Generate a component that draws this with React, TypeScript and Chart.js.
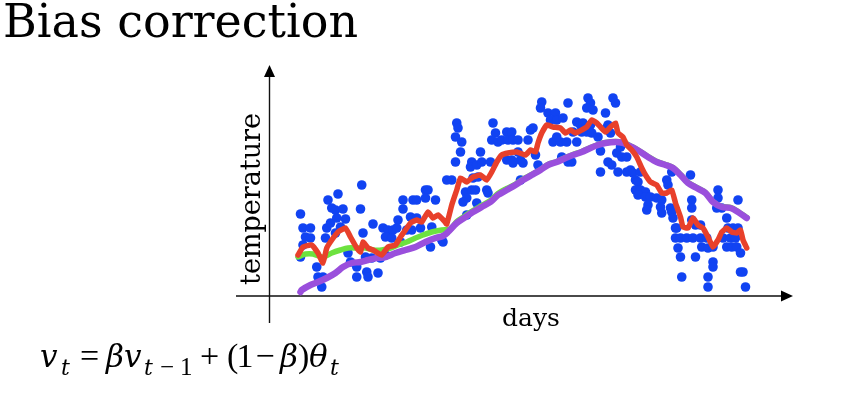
import React, { useEffect, useRef } from "react";
import { Chart, registerables } from "chart.js";

Chart.register(...registerables);

const TITLE = "Bias correction";
const X_LABEL = "days";
const Y_LABEL = "temperature";

// daily temperature readings (blue dots)
const dotDays = [
  2, 2, 4, 10, 6, 10, 4, 15, 16, 20, 19, 22, 23, 26, 24, 27, 30, 32, 30, 31,
  34, 36, 38, 40, 42, 47, 47, 51, 50, 52, 54, 55, 56, 59, 60, 64, 66, 70, 68, 72,
  76, 70, 75, 80, 82, 84, 84, 87, 90, 91, 92, 95, 95, 98, 102, 104, 102, 110, 107, 106,
  115, 79, 116, 119, 123, 127, 128, 126, 131, 130, 126, 134, 135, 132, 139, 138, 143, 146, 140, 144,
  139, 142, 151, 152, 143, 135, 147, 154, 156, 158, 155, 160, 163, 167, 171, 168, 172, 176, 167, 171,
  178, 172, 180, 176, 184, 186, 188, 190, 192, 178, 198, 198, 195, 194, 200, 206, 202, 207, 212, 204,
  210, 215, 207, 216, 219, 211, 216, 223, 226, 220, 227, 223, 232, 232, 234, 231, 236, 228, 234, 231,
  235, 240, 242, 252, 246, 252, 254, 246, 248, 247, 250, 242, 248, 251, 255, 259, 263, 256, 263, 266,
  268, 258, 270, 272, 270, 274, 278, 272, 278, 282, 287, 291, 280, 279, 290, 291, 295, 296, 298, 299,
  300, 299, 302, 303, 302, 306, 311, 316, 322, 327, 304, 306, 318, 307, 315, 318, 322, 314, 315, 315,
  323, 328, 332, 332, 332, 328, 328, 336, 336, 335, 339, 343, 344, 340, 346, 350, 343, 347, 351, 348,
  352, 352, 354, 354, 356, 358, 274,
];
const dotTemps = [
  38.0, 46.6, 43.8, 43.8, 42.0, 41.8, 40.4, 36.0, 34.0, 34.0, 32.0, 41.8, 43.8, 44.8, 49.4, 47.8, 47.4, 50.6, 42.8, 45.8,
  44.0, 47.6, 45.6, 38.8, 37.0, 36.0, 34.0, 52.4, 47.6, 42.8, 38.0, 35.0, 34.0, 37.8, 44.6, 34.8, 37.8, 38.4, 43.8, 43.4,
  43.4, 42.0, 41.8, 45.4, 41.0, 49.4, 47.6, 43.4, 46.0, 43.4, 49.4, 49.4, 45.8, 43.8, 51.4, 51.4, 49.8, 49.4, 44.0, 40.0,
  41.4, 43.8, 41.0, 53.4, 53.4, 64.8, 63.8, 62.0, 61.0, 59.0, 57.0, 51.0, 49.8, 49.0, 57.0, 56.0, 56.4, 59.0, 53.8, 54.0,
  51.4, 51.4, 51.4, 50.8, 48.8, 46.4, 57.0, 57.0, 64.8, 62.8, 61.4, 61.0, 61.4, 63.0, 63.0, 61.4, 61.4, 61.4, 57.4, 57.4,
  57.4, 56.8, 56.8, 59.0, 61.4, 63.4, 63.8, 58.4, 56.4, 53.4, 73.4, 72.4, 69.0, 67.8, 66.8, 66.8, 65.4, 65.4, 65.8, 61.0,
  61.0, 61.0, 62.0, 57.0, 57.0, 58.0, 68.8, 65.0, 64.4, 63.0, 63.0, 61.0, 74.4, 69.8, 68.8, 67.8, 67.4, 64.8, 64.4, 63.0,
  62.8, 62.0, 55.0, 72.8, 70.8, 69.8, 68.8, 66.8, 64.4, 63.8, 62.8, 59.2, 57.0, 56.4, 58.8, 58.0, 58.0, 55.0, 55.0, 55.4,
  54.8, 60.0, 53.4, 53.0, 51.4, 51.4, 51.0, 50.4, 50.0, 50.0, 49.8, 49.4, 48.4, 47.4, 48.0, 46.8, 53.4, 52.4, 47.8, 47.0,
  45.8, 55.0, 43.8, 43.8, 41.8, 41.8, 41.8, 41.8, 41.8, 41.8, 39.8, 38.0, 38.0, 34.0, 45.4, 44.4, 44.4, 54.4, 49.4, 47.8,
  40.0, 39.8, 40.0, 37.0, 36.0, 34.0, 32.0, 51.4, 49.8, 47.8, 47.8, 45.8, 43.8, 41.8, 41.8, 41.8, 40.0, 40.0, 40.0, 43.8,
  43.8, 49.4, 38.8, 35.0, 35.0, 32.0, 55.0,
];

// moving average, beta = 0.9 (red)
const redDays = [
  0, 4, 11, 16, 20, 23, 27, 32, 38, 42, 47, 50, 52, 56, 60, 67, 72, 78, 82, 86,
  90, 95, 99, 104, 108, 112, 117, 119, 123, 127, 130, 135, 140, 146, 151, 155, 159, 163, 168, 175,
  182, 186, 190, 192, 195, 199, 204, 210, 214, 218, 222, 227, 231, 235, 239, 242, 246, 250, 254, 256,
  260, 263, 267, 271, 275, 278, 282, 287, 291, 295, 299, 302, 306, 308, 312, 316, 320, 324, 328, 332,
  336, 339, 343, 347, 351, 354, 356, 359,
];
const redTemps = [
  38.4, 40.0, 40.4, 38.8, 36.8, 39.8, 41.4, 43.0, 43.8, 42.0, 39.8, 39.0, 41.0, 39.8, 39.4, 38.4, 40.0, 40.4, 42.0, 43.4,
  44.8, 45.4, 45.0, 47.0, 45.8, 46.4, 45.2, 44.6, 48.4, 51.4, 53.8, 53.0, 54.0, 54.4, 53.4, 55.0, 57.0, 58.4, 58.8, 59.0,
  58.4, 59.4, 59.0, 60.8, 62.8, 64.4, 64.0, 63.8, 62.8, 63.4, 62.8, 63.4, 64.0, 65.4, 64.8, 64.0, 63.0, 64.0, 64.8, 62.8,
  62.0, 60.4, 59.4, 58.0, 55.8, 54.4, 53.0, 52.4, 50.8, 50.8, 51.4, 48.8, 46.0, 44.0, 43.8, 45.8, 44.4, 43.8, 42.0, 40.0,
  41.4, 43.0, 43.8, 43.0, 42.8, 43.4, 41.4, 39.8,
];

// moving average, beta = 0.98, with bias correction (green)
const greenDays = [
  0, 6, 12, 20, 27, 34, 40, 47, 54, 60, 67, 74, 80, 87, 94, 100, 107, 115, 122, 127,
  134, 140, 147, 154, 160, 167, 174, 180, 187, 194, 200, 207, 214, 220, 227, 234, 240, 246, 254, 260,
  267, 274, 280, 287, 294, 300, 306, 312, 319, 326, 332, 339, 346, 352, 359,
];
const greenTemps = [
  38.0, 38.6, 38.6, 38.0, 38.8, 39.4, 39.8, 39.8, 39.8, 39.4, 39.4, 39.8, 40.4, 41.0, 41.8, 42.4, 43.0, 43.4, 43.6, 45.1,
  46.3, 47.3, 48.3, 49.3, 50.7, 51.7, 52.6, 53.6, 54.5, 55.5, 56.5, 57.1, 57.9, 58.5, 59.1, 59.9, 60.5, 60.9, 61.1, 60.9,
  60.1, 59.1, 58.1, 57.1, 56.5, 55.9, 54.5, 52.9, 51.9, 50.9, 49.1, 48.1, 47.9, 47.1, 45.9,
];

// moving average, beta = 0.98, without bias correction (purple)
const purpleDays = [
  2, 3, 10, 16, 23, 30, 36, 43, 50, 56, 63, 70, 78, 86, 94, 102, 110, 116, 120, 127,
  134, 140, 147, 154, 160, 167, 174, 180, 187, 194, 200, 207, 214, 220, 227, 234, 240, 246, 254, 260,
  267, 274, 280, 287, 294, 300, 306, 312, 319, 326, 332, 339, 346, 352, 359,
];
const purpleTemps = [
  31.0, 31.4, 32.4, 33.0, 33.8, 34.8, 36.0, 36.8, 37.0, 37.4, 37.8, 38.0, 38.8, 39.4, 40.0, 41.0, 41.8, 42.2, 43.0, 44.8,
  46.0, 47.0, 48.0, 49.0, 50.4, 51.4, 52.4, 53.4, 54.4, 55.4, 56.4, 57.0, 57.8, 58.4, 59.0, 59.8, 60.4, 60.8, 61.0, 60.8,
  60.0, 59.0, 58.0, 57.0, 56.4, 55.8, 54.4, 52.8, 51.8, 50.8, 49.0, 48.0, 47.8, 47.0, 45.8,
];

const toPoints = (xs: number[], ys: number[]) => xs.map((x, i) => ({ x, y: ys[i] }));

const SERIF = "'DejaVu Serif', 'Liberation Serif', serif";
const ITALIC_FONT = "'DejaVu Serif', serif";
const UPRIGHT_FONT = "'Liberation Serif', serif";

type Piece = { text: string; italic: boolean; sub: boolean; x: number };
const formulaPieces: Piece[] = [
  { text: "v", italic: true, sub: false, x: 40 },
  { text: "t", italic: true, sub: true, x: 61 },
  { text: "=", italic: false, sub: false, x: 80 },
  { text: "β", italic: true, sub: false, x: 106 },
  { text: "v", italic: true, sub: false, x: 124 },
  { text: "t", italic: true, sub: true, x: 144 },
  { text: "−", italic: false, sub: true, x: 160 },
  { text: "1", italic: false, sub: true, x: 180 },
  { text: "+", italic: false, sub: false, x: 200 },
  { text: "(", italic: false, sub: false, x: 227 },
  { text: "1", italic: false, sub: false, x: 236.5 },
  { text: "−", italic: false, sub: false, x: 255.5 },
  { text: "β", italic: true, sub: false, x: 280 },
  { text: ")", italic: false, sub: false, x: 298 },
  { text: "θ", italic: true, sub: false, x: 309 },
  { text: "t", italic: true, sub: true, x: 330 },
];

const decorPlugin = {
  id: "decor",
  beforeDatasetsDraw(chart: any) {
    const { ctx, chartArea: a } = chart;
    ctx.save();
    const ax = a.left + 0.5;
    const ay = a.bottom - 1;
    // x axis
    ctx.strokeStyle = "#4a4a4a";
    ctx.lineWidth = 1.8;
    ctx.beginPath();
    ctx.moveTo(a.left - 33, ay);
    ctx.lineTo(a.right - 8, ay);
    ctx.stroke();
    ctx.fillStyle = "#000";
    ctx.beginPath();
    ctx.moveTo(a.right, ay);
    ctx.lineTo(a.right - 12, ay - 5.5);
    ctx.lineTo(a.right - 12, ay + 5.5);
    ctx.closePath();
    ctx.fill();
    // y axis
    ctx.strokeStyle = "#111";
    ctx.lineWidth = 1.4;
    ctx.beginPath();
    ctx.moveTo(ax, a.bottom + 26);
    ctx.lineTo(ax, a.top - 28);
    ctx.stroke();
    ctx.beginPath();
    ctx.moveTo(ax, a.top - 36);
    ctx.lineTo(ax - 5.5, a.top - 24);
    ctx.lineTo(ax + 5.5, a.top - 24);
    ctx.closePath();
    ctx.fill();
    ctx.restore();
  },
  afterDraw(chart: any) {
    const { ctx } = chart;
    ctx.save();
    ctx.fillStyle = "#000";
    ctx.textBaseline = "alphabetic";
    ctx.textAlign = "left";
    for (const p of formulaPieces) {
      if (p.italic) {
        ctx.font = `italic ${p.sub ? 22 : 31}px ${ITALIC_FONT}`;
      } else {
        ctx.font = `${p.sub ? 25 : 34}px ${UPRIGHT_FONT}`;
      }
      ctx.fillText(p.text, p.x, p.sub ? 375 : 367);
    }
    ctx.restore();
  },
};

export default function App() {
  const canvasRef = useRef<HTMLCanvasElement | null>(null);

  useEffect(() => {
    if (!canvasRef.current) return;
    const lineBase = {
      showLine: true,
      pointRadius: 0,
      pointHoverRadius: 0,
      tension: 0.12,
      borderCapStyle: "round",
      borderJoinStyle: "round",
      clip: false,
    };
    const chart = new Chart(canvasRef.current, {
      type: "scatter",
      data: {
        datasets: [
          {
            ...lineBase,
            label: "β = 0.9",
            data: toPoints(redDays, redTemps),
            borderColor: "#e8402b",
            backgroundColor: "#e8402b",
            borderWidth: 5.5,
          },
          {
            ...lineBase,
            label: "β = 0.98",
            data: toPoints(purpleDays, purpleTemps),
            borderColor: "#9a4fdc",
            backgroundColor: "#9a4fdc",
            borderWidth: 6.5,
            tension: 0.3,
          },
          {
            ...lineBase,
            label: "β = 0.98, bias corrected",
            data: toPoints(greenDays, greenTemps),
            borderColor: "#6de23f",
            backgroundColor: "#6de23f",
            borderWidth: 5.5,
            tension: 0.3,
          },
          {
            label: "temperature",
            data: toPoints(dotDays, dotTemps),
            showLine: false,
            pointRadius: 4.8,
            pointBorderWidth: 0,
            backgroundColor: "#1143f2",
            borderColor: "#1143f2",
            clip: false,
          },
        ] as any,
      },
      options: {
        responsive: false,
        animation: false,
        events: [],
        layout: { padding: { left: 3, right: 49, top: 0, bottom: 63.5 } },
        plugins: {
          legend: { display: false },
          tooltip: { enabled: false },
          title: {
            display: true,
            text: TITLE,
            align: "start",
            color: "#000",
            font: { family: SERIF, size: 46, weight: "normal", lineHeight: 1 },
            padding: { top: 2, bottom: 53 },
          },
        },
        scales: {
          x: {
            type: "linear",
            min: -23.2,
            max: 396,
            grid: { display: false },
            border: { display: false },
            ticks: { display: false },
            title: {
              display: true,
              text: X_LABEL,
              color: "#000",
              font: { family: SERIF, size: 25, lineHeight: 1 },
              padding: { top: 0, bottom: 0 },
            },
            afterFit: (s: any) => {
              s.height = 34.5;
            },
          },
          y: {
            type: "linear",
            min: 30,
            max: 69.2,
            grid: { display: false },
            border: { display: false },
            ticks: { display: false },
            title: {
              display: true,
              text: Y_LABEL,
              color: "#000",
              font: { family: SERIF, size: 27, lineHeight: 1 },
              padding: { top: 236, bottom: 0 },
            },
            afterFit: (s: any) => {
              s.width = 266;
            },
          },
        },
      } as any,
      plugins: [decorPlugin as any],
    });
    return () => chart.destroy();
  }, []);

  return (
    <div style={{ position: "absolute", left: 0, top: 0, width: 842, height: 395, background: "#fff" }}>
      <canvas ref={canvasRef} width={842} height={395} style={{ display: "block" }} />
    </div>
  );
}
